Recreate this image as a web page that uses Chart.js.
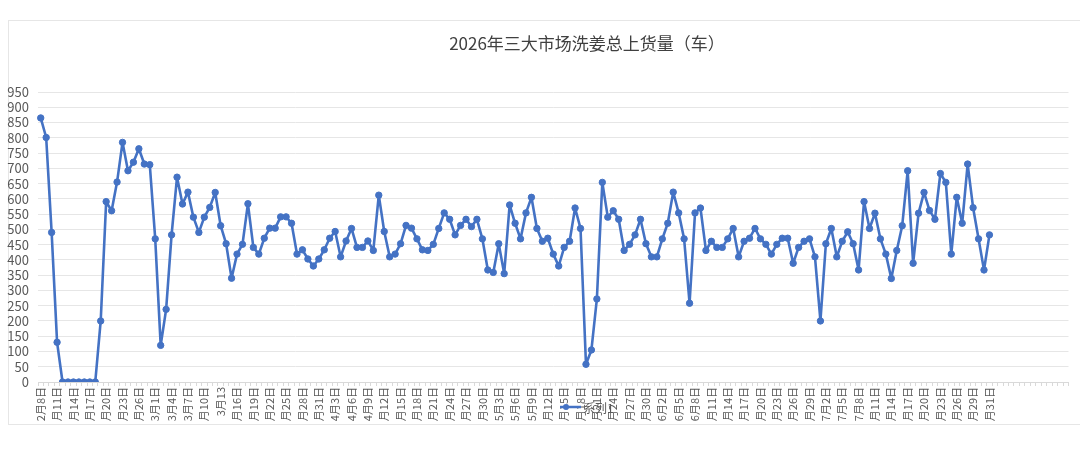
<!DOCTYPE html>
<html>
<head>
<meta charset="utf-8">
<script src="https://cdn.jsdelivr.net/npm/chart.js@4.4.1/dist/chart.umd.min.js"></script>
<style>
    html, body { margin: 0; padding: 0; background: #fff; }
    #frame { position: absolute; left: 8px; top: 20px; width: 1080px; height: 405px; border: 1px solid #e6e6e6; box-sizing: border-box; }
    #wrap { position: absolute; left: 0; top: 0; width: 1080px; height: 464px; }
</style>
</head>
<body>
<div id="frame"></div>
<div id="wrap"><canvas id="grafico" width="1080" height="464"></canvas></div>
<script>
const titulo = "2026年三大市场洗姜总上货量（车）";
const nombreSerie = "系列1";

// valores diarios desde 2月8日 (175 puntos)
const cargas = [
    865, 801, 490, 130, 0, 0, 0, 0, 0, 0, 0, 200, 591, 561, 655, 785, 692, 720, 764, 714,
    712, 469, 120, 238, 482, 671, 583, 622, 540, 490, 540, 572, 621, 512, 453, 340, 419, 451, 584, 441,
    419, 471, 504, 504, 541, 541, 520, 419, 433, 403, 380, 403, 433, 471, 493, 410, 462, 503, 441, 441,
    462, 431, 612, 493, 410, 419, 453, 513, 504, 469, 433, 431, 451, 503, 554, 533, 482, 513, 533, 509,
    533, 469, 367, 359, 453, 355, 580, 520, 469, 554, 605, 503, 461, 471, 419, 380, 441, 461, 570, 503,
    58, 105, 272, 654, 540, 561, 533, 431, 451, 482, 533, 453, 410, 410, 469, 520, 622, 554, 469, 258,
    554, 570, 431, 461, 441, 441, 469, 503, 410, 461, 471, 503, 469, 451, 419, 451, 471, 471, 389, 441,
    461, 469, 410, 200, 453, 503, 410, 461, 492, 453, 367, 591, 503, 553, 469, 419, 339, 431, 512, 692,
    389, 553, 621, 562, 533, 683, 654, 419, 605, 520, 714, 571, 469, 367, 482
];

// etiquetas visibles del eje x (una cada 3 categorías, tal como se ven recortadas)
const etiquetasEje = [
    "2月8日", "月11日", "月14日", "月17日", "月20日", "月23日", "月26日",
    "3月1日", "3月4日", "3月7日", "月10日", "3月13", "月16日", "月19日", "月22日", "月25日", "月28日", "月31日",
    "4月3日", "4月6日", "4月9日", "月12日", "月15日", "月18日", "月21日", "月24日", "月27日", "月30日",
    "5月3日", "5月6日", "5月9日", "月12日", "月15日", "月18日", "月21日", "月24日", "月27日", "月30日",
    "6月2日", "6月5日", "6月8日", "月11日", "月14日", "月17日", "月20日", "月23日", "月26日", "月29日",
    "7月2日", "7月5日", "7月8日", "月11日", "月14日", "月17日", "月20日", "月23日", "月26日", "月29日", "月31日"
];

const categoriasVacias = 14;

window.onload = function () {
    const categorias = [];
    const inicio = new Date(2026, 1, 8);
    for (let i = 0; i < cargas.length; i++) {
        const d = new Date(inicio.getTime() + i * 86400000);
        categorias.push((d.getMonth() + 1) + "月" + d.getDate() + "日");
    }
    for (let i = 0; i < categoriasVacias; i++) categorias.push("");

    const fuente = '"Noto Sans CJK SC", "Noto Sans", sans-serif';
    const azul = "#4472C4";

    const extras = {
        id: "extras",
        afterDraw(chart) {
            const ctx = chart.ctx;
            ctx.save();
            ctx.fillStyle = "#404040";
            ctx.font = "17px " + fuente;
            ctx.textAlign = "center";
            ctx.textBaseline = "middle";
            ctx.fillText(titulo, 587, 44);

            // leyenda
            ctx.strokeStyle = azul;
            ctx.lineWidth = 2.5;
            ctx.beginPath();
            ctx.moveTo(560, 407);
            ctx.lineTo(581, 407);
            ctx.stroke();
            ctx.fillStyle = azul;
            ctx.beginPath();
            ctx.arc(566, 407, 3, 0, Math.PI * 2);
            ctx.fill();
            ctx.fillStyle = "#595959";
            ctx.font = "12px " + fuente;
            ctx.textAlign = "left";
            ctx.fillText(nombreSerie, 583, 408);
            ctx.restore();
        }
    };

    const ctx = document.getElementById("grafico").getContext("2d");
    new Chart(ctx, {
        type: "line",
        data: {
            labels: categorias,
            datasets: [{
                label: nombreSerie,
                data: cargas,
                borderColor: azul,
                backgroundColor: azul,
                borderWidth: 2.6,
                borderJoinStyle: "round",
                borderCapStyle: "round",
                pointRadius: 3.2,
                pointBorderWidth: 1,
                pointBackgroundColor: azul,
                pointBorderColor: azul,
                tension: 0,
                fill: false
            }]
        },
        options: {
            responsive: false,
            animation: false,
            layout: { padding: { top: 92, left: 0, right: 0, bottom: 0 } },
            plugins: {
                legend: { display: false },
                title: { display: false },
                tooltip: { enabled: false }
            },
            scales: {
                x: {
                    type: "category",
                    offset: true,
                    afterFit(scale) { scale.height = 82; },
                    grid: {
                        display: true,
                        drawOnChartArea: false,
                        drawTicks: true,
                        tickLength: 4,
                        offset: true,
                        color: "#d9d9d9"
                    },
                    border: { display: true, color: "#d9d9d9" },
                    ticks: {
                        autoSkip: false,
                        minRotation: 90,
                        maxRotation: 90,
                        padding: 1,
                        color: "#595959",
                        font: { family: fuente, size: 11 },
                        callback: function (value, index) {
                            return index % 3 === 0 ? (etiquetasEje[index / 3] || "") : "";
                        }
                    }
                },
                y: {
                    min: 0,
                    max: 950,
                    afterFit(scale) { scale.width = 38; },
                    grid: { color: "#e6e6e6", drawTicks: false },
                    border: { display: false },
                    ticks: {
                        stepSize: 50,
                        autoSkip: false,
                        padding: 9,
                        color: "#595959",
                        font: { family: fuente, size: 13 }
                    }
                }
            }
        },
        plugins: [extras]
    });
};
</script>
</body>
</html>
